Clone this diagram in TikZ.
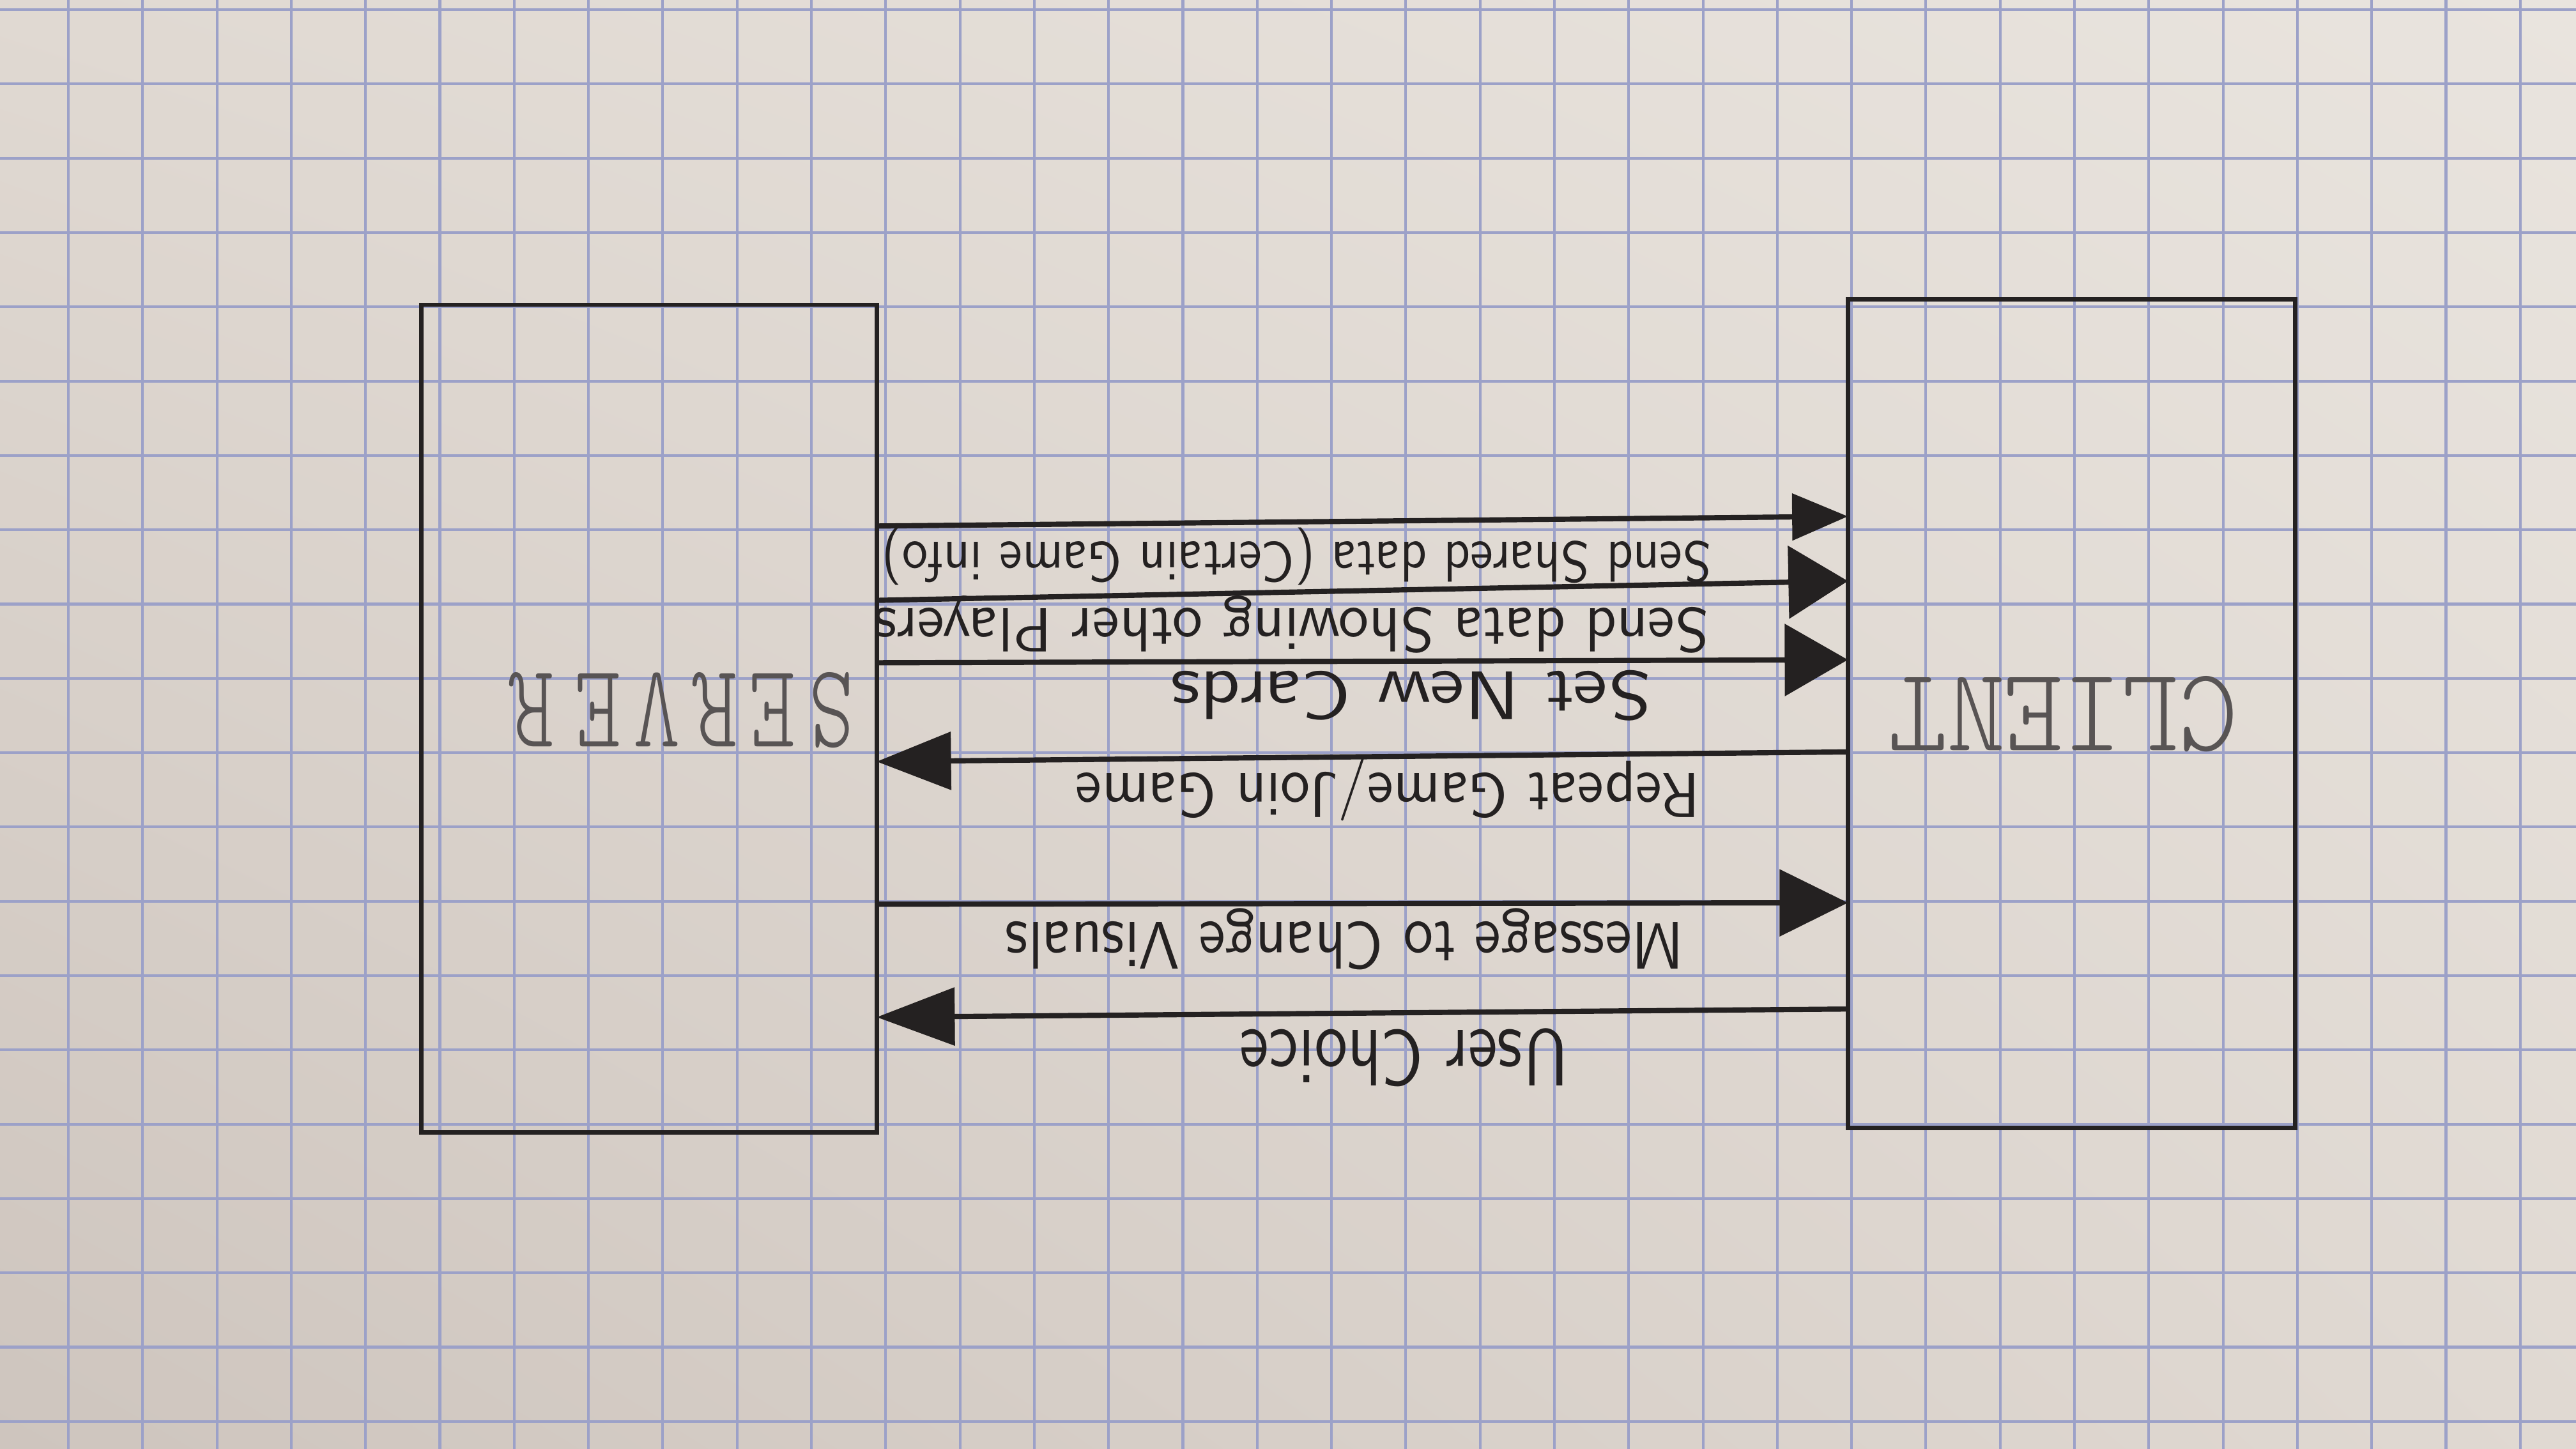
\documentclass[tikz,border=0pt]{standalone}
\usepackage{graphicx}
\usetikzlibrary{arrows.meta,shadings}
\definecolor{paperlight}{RGB}{233,228,222}
\definecolor{paper}{RGB}{224,217,210}
\definecolor{paperdark}{RGB}{206,197,190}
\definecolor{gridblue}{RGB}{156,161,200}
\definecolor{pencil}{RGB}{36,33,33}
\definecolor{pencilsoft}{RGB}{88,84,84}
\newcommand{\scribble}[3]{\resizebox{#1}{#2}{\sffamily #3}}
\newcommand{\thinhand}[3]{\resizebox{#1}{#2}{\fontfamily{lmtt}\fontseries{l}\selectfont #3}}

\begin{document}
\begin{tikzpicture}[
  box/.style={draw=pencil, line width=1.6pt, inner sep=0pt, outer sep=0pt},
  msg/.style={draw=pencil, line width=2pt},
  pointer/.style 2 args={-{Triangle[length=#1cm,width=#2cm]}},
  note/.style={rotate=180, text=pencil, inner sep=0pt},
  tag/.style={rotate=180, text=pencilsoft, inner sep=0pt}
]
\useasboundingbox (0,0) rectangle (34.67,19.5);
% graph paper
\shade[upper left=paper, upper right=paperlight, lower left=paperdark, lower right=paper] (0,0) rectangle (34.67,19.5);
\draw[gridblue, line width=1pt, step=1, shift={(0.92,0.37)}] (-0.92,-0.37) grid (33.75,19.13);

% the two boxes
\node[box, minimum width=6.13cm, minimum height=11.14cm] (server) at (8.735,9.83) {};
\node[box, minimum width=6.02cm, minimum height=11.15cm] (client) at (27.88,9.895) {};
\node[tag] (servername) at (9.17,9.94) {\thinhand{4.64cm}{1cm}{S\kern.15em E\kern.15em R\kern.15em V\kern.15em E\kern.25em R}};
\node[tag] (clientname) at (27.77,9.89) {\thinhand{4.69cm}{1cm}{CLIENT}};

% messages
\draw[msg, pointer={0.75}{0.62}] (server.east |- 0,12.42) -- (client.west |- 0,12.55);
\draw[msg, pointer={0.8}{0.97}] (server.east |- 0,11.42) -- (client.west |- 0,11.68);
\draw[msg, pointer={0.85}{0.96}] (server.east |- 0,10.58) -- (client.west |- 0,10.62);
\draw[msg, pointer={1.0}{0.77}] (client.west |- 0,9.38) -- (server.east |- 0,9.25);
\draw[msg, pointer={0.92}{0.89}] (server.east |- 0,7.33) -- (client.west |- 0,7.35);
\draw[msg, pointer={1.05}{0.77}] (client.west |- 0,5.92) -- (server.east |- 0,5.81);

% labels (written upside down)
\node[note] (sharedlbl) at (17.45,12.01) {\scribble{11.16cm}{0.58cm}{Send Shared data (Certain Game info)}};
\node[note] (playerslbl) at (17.38,11.10) {\scribble{11.23cm}{0.6cm}{Send data Showing other Players}};
\node[note] (cardslbl) at (18.99,10.14) {\scribble{6.46cm}{0.66cm}{Set New Cards}};
\node[note] (repeatlbl) at (18.68,8.88) {\scribble{8.40cm}{0.64cm}{Repeat Game/Join Game}};
\node[note] (visualslbl) at (18.10,6.86) {\scribble{9.13cm}{0.64cm}{Message to Change Visuals}};
\node[note] (choicelbl) at (18.90,5.27) {\scribble{4.42cm}{0.76cm}{User Choice}};
\end{tikzpicture}
\end{document}
